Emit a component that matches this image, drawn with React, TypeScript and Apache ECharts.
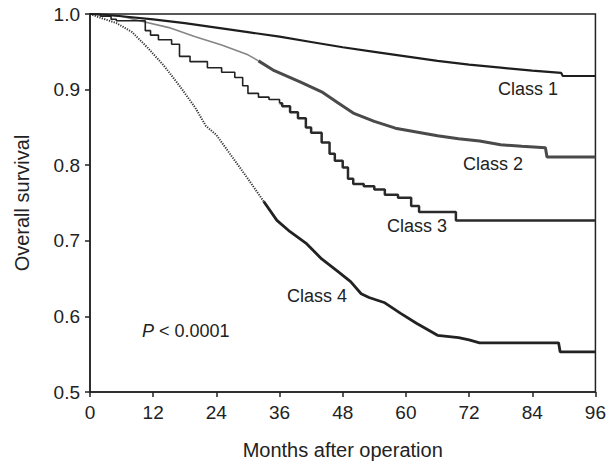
import React, { useEffect, useRef } from "react";
import * as echarts from "echarts";

// [month, survival]
const class1: number[][] = [
  [0, 1.0], [3, 0.999], [6, 0.997], [12, 0.993], [18, 0.988], [24, 0.982],
  [30, 0.976], [36, 0.97], [42, 0.963], [48, 0.956], [54, 0.95], [60, 0.944],
  [66, 0.938], [72, 0.933], [78, 0.929], [84, 0.925], [89.5, 0.922], [89.8, 0.918], [96, 0.918],
];

const class2: number[][] = [
  [0, 1.0], [6, 0.997], [10, 0.99], [15, 0.982], [20, 0.97], [25, 0.959],
  [30, 0.946], [32, 0.938], [35, 0.925], [40, 0.91], [44, 0.897], [47, 0.883],
  [50, 0.869], [54, 0.858], [58, 0.849], [62, 0.844], [66, 0.839], [70, 0.835],
  [74, 0.832], [78, 0.827], [82, 0.825], [86.5, 0.823], [86.8, 0.811], [96, 0.811],
];

const class3: number[][] = [
  [0, 1.0], [2, 0.997], [4, 0.993], [5, 0.991], [10.5, 0.978], [11.5, 0.972],
  [13, 0.966], [15.5, 0.96], [17, 0.944], [19, 0.937], [22.3, 0.929], [25, 0.923],
  [27.5, 0.916], [29, 0.905], [30, 0.895], [32, 0.89], [34, 0.887], [36, 0.882],
  [36.5, 0.878], [38, 0.87], [39.5, 0.862], [41, 0.85], [42, 0.843], [44, 0.83],
  [45.5, 0.815], [46.5, 0.806], [48, 0.797], [49, 0.782], [50, 0.775], [52, 0.772],
  [54, 0.768], [56, 0.761], [58.5, 0.757], [61, 0.746], [62.5, 0.738], [69.5, 0.727], [96, 0.727],
];

const class4: number[][] = [
  [0, 1.0], [2, 0.995], [5, 0.988], [8, 0.976], [11, 0.955], [14, 0.932],
  [17, 0.905], [20, 0.876], [22, 0.852], [24, 0.84], [27, 0.811], [30, 0.782],
  [33, 0.752], [35.5, 0.727], [38, 0.712], [41, 0.697], [44, 0.676], [47, 0.66],
  [49.5, 0.646], [51.5, 0.63], [53, 0.625], [56, 0.618], [59, 0.604], [62, 0.591],
  [64, 0.583], [66, 0.575], [70, 0.572], [72, 0.569], [74, 0.565], [89, 0.565],
  [89.3, 0.553], [96, 0.553],
];

const classLabels = ["Class 1", "Class 2", "Class 3", "Class 4"];
const pText = "P";
const pRest = " < 0.0001";

function splitAt(data: number[][], m: number): [number[][], number[][]] {
  const early = data.filter((d) => d[0] <= m);
  const late = data.filter((d) => d[0] >= m);
  if (late.length && late[0][0] !== m) {
    late.unshift(early[early.length - 1]);
  }
  return [early, late];
}

export default function App() {
  const ref = useRef<HTMLDivElement>(null);
  useEffect(() => {
    if (!ref.current) return;
    const chart = echarts.init(ref.current, undefined, { renderer: "svg" });
    const [c2a, c2b] = splitAt(class2, 32);
    const [c3a, c3b] = splitAt(class3, 36);
    const [c4a, c4b] = splitAt(class4, 33);
    const font = "Arial, 'Liberation Sans', Helvetica, sans-serif";
    const lineSeries = (data: number[][], color: string, width: number, extra: any = {}) => ({
      type: "line",
      data,
      symbol: "none",
      silent: true,
      lineStyle: { color, width, ...(extra.lineStyle || {}) },
      step: extra.step,
      z: extra.z ?? 2,
    });
    const labelStyle = { fontFamily: font, fontSize: 18, fill: "#222" };
    chart.setOption({
      animation: false,
      grid: {
        left: 90, right: 13, top: 14, bottom: 76,
        show: true, borderColor: "#222", borderWidth: 1.5, backgroundColor: "transparent",
      },
      xAxis: {
        type: "value", min: 0, max: 96, interval: 12,
        name: "Months after operation", nameLocation: "middle", nameGap: 48,
        nameTextStyle: { fontFamily: font, fontSize: 20, color: "#222" },
        axisLine: { show: true, lineStyle: { color: "#222", width: 1.5 } },
        axisTick: { show: true, inside: false, length: 5, lineStyle: { color: "#222", width: 1.5 } },
        axisLabel: { fontFamily: font, fontSize: 19, color: "#222", margin: 11 },
        splitLine: { show: false },
      },
      yAxis: {
        type: "value", min: 0.5, max: 1.0, interval: 0.1,
        name: "Overall survival", nameLocation: "middle", nameGap: 58,
        nameTextStyle: { fontFamily: font, fontSize: 20, color: "#222" },
        axisLine: { show: true, lineStyle: { color: "#222", width: 1.5 } },
        axisTick: { show: true, inside: false, length: 5, lineStyle: { color: "#222", width: 1.5 } },
        axisLabel: { fontFamily: font, fontSize: 19, color: "#222", margin: 10, formatter: (v: number) => v.toFixed(1) },
        splitLine: { show: false },
      },
      series: [
        lineSeries(class1, "#1e1e1e", 2.2, { z: 5 }),
        lineSeries(c2a, "#858585", 1.6),
        lineSeries(c2b, "#4a4a4a", 3),
        lineSeries(c3a, "#222", 1.6, { step: "end" }),
        lineSeries(c3b, "#2a2a2a", 2.5, { step: "end" }),
        lineSeries(c4a, "#333", 2, { lineStyle: { type: [1.2, 1.3] } }),
        lineSeries(c4b, "#222", 2.8),
      ],
      graphic: [
        { type: "text", left: 498, top: 80, style: { ...labelStyle, text: classLabels[0] } },
        { type: "text", left: 463, top: 155, style: { ...labelStyle, text: classLabels[1] } },
        { type: "text", left: 387, top: 217, style: { ...labelStyle, text: classLabels[2] } },
        { type: "text", left: 287, top: 287, style: { ...labelStyle, text: classLabels[3] } },
        { type: "text", left: 142, top: 322, style: { ...labelStyle, text: pText, fontStyle: "italic" } },
        { type: "text", left: 154, top: 322, style: { ...labelStyle, text: pRest } },
      ],
    });
    return () => chart.dispose();
  }, []);
  return (
    <div
      ref={ref}
      style={{ position: "absolute", left: 0, top: 0, width: 609, height: 468, background: "#fff" }}
    />
  );
}
